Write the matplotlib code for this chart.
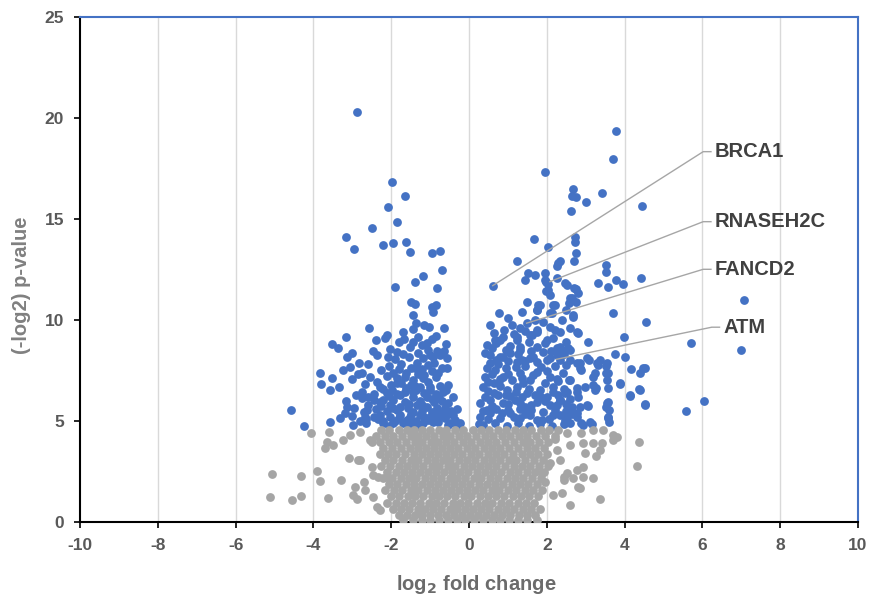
import matplotlib
matplotlib.use("Agg")
import matplotlib.pyplot as plt

# ---------------- data (log2 fold change, -log2 p-value) ----------------
blue_left = [
    (-2.88, 20.33), (-1.99, 16.86), (-1.65, 16.14), (-2.09, 15.59), (-1.84, 14.83), (-2.50, 14.55),
    (-3.16, 14.10), (-2.96, 13.50), (-2.20, 13.73), (-1.96, 13.80), (-1.63, 13.85), (-1.52, 13.37),
    (-0.96, 13.34), (-0.74, 13.44), (-0.69, 12.48), (-1.17, 12.20), (-1.39, 11.87), (-1.91, 11.65),
    (-0.81, 11.60), (-1.50, 10.89), (-1.39, 10.79), (-0.96, 10.66), (-0.85, 10.74), (-0.92, 10.41),
    (-1.45, 10.25), (-1.36, 9.84), (-1.15, 9.77), (-1.02, 9.67), (-0.64, 9.60), (-2.58, 9.59),
    (-1.45, 9.54), (-2.12, 9.26), (-2.16, 9.09), (-3.16, 9.17), (-1.67, 9.04), (-1.30, 9.14),
    (-3.51, 8.81), (-3.38, 8.60), (-1.52, 8.65), (-1.07, 8.88), (-1.84, 8.43), (-2.03, 8.55),
    (-2.46, 8.48), (-2.37, 8.26), (-0.83, 8.48), (-3.02, 8.35), (-3.14, 8.18), (-2.07, 8.18),
    (-1.05, 8.51), (-0.92, 8.18), (-0.56, 8.10), (-2.82, 7.88), (-3.06, 7.65), (-2.59, 7.82),
    (-1.76, 7.82), (-1.34, 7.88), (-1.17, 8.10), (-0.56, 7.60), (-2.25, 7.52), (-2.74, 7.36),
    (-1.61, 7.36), (-1.95, 7.36), (-3.83, 7.36), (-3.51, 7.11), (-3.80, 6.83), (-3.57, 6.53),
    (-3.33, 6.66), (-2.67, 6.83), (-2.37, 6.94), (-2.29, 6.69), (-1.86, 7.11), (-1.43, 7.02),
    (-1.17, 7.11), (-0.85, 7.19), (-1.99, 6.53), (-1.61, 6.61), (-1.26, 6.69), (-1.00, 6.53),
    (-0.66, 6.45), (-2.76, 6.45), (-2.74, 6.12), (-2.59, 6.17), (-2.20, 6.03), (-1.77, 6.28),
    (-1.43, 6.20), (-1.09, 6.17), (-0.77, 6.12), (-3.16, 6.00), (-3.14, 5.70), (-2.96, 5.62),
    (-2.62, 5.54), (-2.03, 5.79), (-1.77, 5.70), (-1.56, 5.62), (-1.34, 5.79), (-1.09, 5.70),
    (-0.83, 5.62), (-0.62, 5.62), (-4.58, 5.54), (-3.31, 5.13), (-3.57, 4.96), (-4.24, 4.76),
    (-2.64, 5.08), (-2.29, 5.29), (-2.03, 5.21), (-1.77, 5.29), (-1.52, 5.21), (-1.26, 5.29),
    (-1.00, 5.21), (-0.75, 5.21), (-0.40, 5.29), (-0.23, 4.88), (-1.69, 4.88), (-1.43, 4.88),
    (-1.17, 4.88), (-0.92, 4.96), (-1.95, 4.88), (-2.20, 4.88), (-0.62, 5.13), (-2.98, 4.80),
    (-2.67, 5.21), (-2.64, 4.88),
    (-1.90, 5.00), (-1.60, 5.05), (-1.35, 5.00), (-1.05, 5.05), (-0.80, 4.95), (-0.50, 4.90),
    (-0.35, 5.05), (-2.10, 5.50), (-1.85, 5.55), (-1.45, 5.45), (-1.20, 5.50), (-0.95, 5.45),
    (-0.70, 5.40), (-0.45, 5.50), (-2.40, 5.60), (-2.30, 5.95), (-1.95, 6.05), (-1.65, 5.95),
    (-1.25, 6.00), (-0.90, 5.95), (-0.55, 5.90), (-0.40, 6.20), (-2.45, 6.35), (-2.10, 6.40),
    (-1.85, 6.35), (-1.45, 6.45), (-1.15, 6.40), (-0.85, 6.35), (-0.55, 6.80), (-2.00, 6.80),
    (-1.75, 6.85), (-1.50, 6.80), (-1.30, 7.30), (-1.05, 6.90), (-0.75, 6.75), (-0.95, 7.45),
    (-0.70, 7.60), (-1.50, 7.60), (-1.20, 7.55), (-2.05, 7.70), (-1.80, 7.55), (-0.90, 7.85),
    (-1.55, 8.15), (-1.30, 8.35), (-0.75, 8.25), (-0.60, 8.80), (-1.20, 8.75), (-1.70, 9.40),
    (-0.85, 9.20), (-1.80, 8.90), (-2.40, 9.00), (-2.85, 7.30), (-3.00, 7.05), (-2.55, 7.15),
    (-3.25, 7.50), (-2.90, 6.30), (-3.00, 5.25), (-2.80, 5.00), (-2.45, 5.20),
    (-2.20, 5.00), (-1.80, 5.15), (-1.50, 5.35), (-1.15, 5.20), (-0.85, 5.30), (-0.55, 5.35),
    (-0.30, 5.60), (-2.25, 5.75), (-1.95, 5.65), (-1.55, 5.85), (-1.20, 5.80), (-0.95, 6.10),
    (-0.70, 6.00), (-2.45, 6.05), (-2.05, 6.25), (-1.65, 6.45), (-1.35, 6.55), (-1.00, 6.70),
    (-0.60, 6.55), (-2.20, 6.60), (-1.85, 6.85), (-1.40, 6.75), (-1.15, 7.25), (-0.80, 7.35),
    (-1.65, 7.15), (-2.10, 7.20), (-1.40, 7.60), (-1.05, 7.75), (-1.90, 8.05), (-1.70, 8.30),
    (-1.00, 8.25), (-0.65, 8.45), (-1.45, 8.90), (-0.95, 9.05), (-2.60, 5.80), (-2.70, 5.45),
    (-3.20, 5.40), (-0.30, 4.75), (-0.55, 4.78), (-1.30, 4.75), (-1.55, 4.75), (-2.05, 4.75),
    (-2.35, 5.10),
]

blue_right = [
    (3.79, 19.36), (3.69, 17.97), (1.96, 17.32), (2.68, 16.50), (2.64, 16.15), (2.75, 16.11),
    (3.00, 15.87), (3.43, 16.31), (2.61, 15.40), (4.45, 15.67), (1.68, 14.01), (2.04, 13.63),
    (2.73, 14.10), (2.73, 13.88), (2.75, 13.31), (2.70, 12.94), (1.24, 12.94), (2.34, 12.94),
    (2.27, 12.68), (3.53, 12.73), (3.52, 12.36), (4.41, 12.10), (1.52, 12.35), (1.70, 12.23),
    (1.44, 11.98), (1.95, 12.35), (0.61, 11.70), (1.95, 11.98), (2.04, 11.78), (2.25, 12.07),
    (2.47, 11.82), (2.70, 11.57), (2.81, 11.35), (3.32, 11.82), (3.58, 11.62), (3.79, 11.98),
    (3.95, 11.78), (1.99, 11.45), (2.08, 11.24), (2.64, 11.07), (2.57, 10.83), (2.75, 10.91),
    (7.07, 10.99), (1.50, 10.91), (0.78, 10.36), (1.35, 10.41), (1.83, 10.74), (2.21, 10.74),
    (1.76, 10.50), (2.08, 10.36), (3.71, 10.33), (4.55, 9.92), (2.68, 10.16), (0.54, 9.75),
    (1.10, 9.75), (1.48, 9.84), (1.74, 9.42), (1.57, 9.26), (2.08, 9.67), (2.34, 9.42),
    (2.60, 9.59), (2.79, 9.37), (3.07, 8.92), (3.98, 9.14), (5.70, 8.88), (6.98, 8.51),
    (0.45, 8.76), (0.80, 9.01), (1.23, 9.17), (1.31, 8.68), (1.95, 8.84), (2.25, 8.60),
    (2.55, 8.60), (3.75, 8.31), (4.01, 8.15), (0.54, 8.26), (0.88, 8.18), (1.65, 8.18),
    (2.08, 8.10), (2.77, 7.85), (3.28, 7.85), (3.53, 7.36), (4.16, 7.55), (4.52, 7.60),
    (4.40, 7.36), (3.87, 6.83), (4.38, 6.57), (4.14, 6.23), (4.52, 5.83), (6.03, 6.00),
    (5.59, 5.51), (3.58, 5.95), (3.61, 5.54), (3.58, 5.21), (3.61, 4.96), (3.53, 5.70),
    (3.20, 6.78), (3.27, 6.61), (3.58, 7.36), (3.53, 7.72), (3.24, 7.36), (3.37, 8.02),
    (3.03, 8.10), (3.07, 5.74), (2.85, 5.70), (2.77, 5.37), (2.51, 5.21), (2.89, 4.88),
    (3.15, 4.84), (2.60, 4.88), (2.87, 7.52), (2.77, 6.61), (2.51, 6.45), (2.57, 7.02),
    (2.81, 6.20), (2.34, 6.03),
    (2.30, 12.81), (1.98, 11.90), (2.04, 11.49), (2.51, 11.74), (2.75, 11.52), (2.60, 11.07),
    (1.78, 10.74), (2.17, 10.74), (1.74, 10.50), (2.13, 10.33), (2.68, 10.25), (1.70, 10.00),
    (1.61, 9.26), (1.74, 9.50), (2.77, 9.42), (0.67, 9.01), (0.88, 9.17), (1.23, 9.01),
    (1.31, 8.51), (1.74, 8.68), (2.00, 9.01), (2.34, 8.68), (2.60, 8.51), (0.41, 8.35),
    (0.54, 7.85), (0.80, 8.18), (1.05, 8.35), (1.23, 7.93), (1.57, 8.10), (2.00, 8.02),
    (2.25, 8.26), (2.60, 8.02), (2.85, 7.85), (3.09, 8.02), (3.32, 7.77), (3.54, 7.85),
    (4.48, 7.60), (0.41, 7.19), (0.67, 7.52), (0.88, 7.19), (1.31, 7.36), (1.57, 7.02),
    (1.74, 7.44), (2.08, 7.19), (2.42, 7.36), (2.60, 7.02), (2.85, 7.60), (3.20, 7.19),
    (3.54, 7.02), (3.88, 6.86), (0.37, 6.69), (0.63, 6.86), (0.97, 6.53), (1.23, 6.69),
    (1.48, 6.36), (1.83, 6.53), (2.17, 6.69), (2.47, 6.36), (2.77, 6.45), (2.98, 6.69),
    (3.24, 6.53), (3.58, 6.61), (4.14, 6.28), (4.40, 6.53), (0.28, 5.87), (0.54, 6.03),
    (0.88, 5.87), (1.18, 6.03), (1.44, 5.70), (1.74, 5.95), (2.08, 5.79), (2.34, 6.03),
    (2.64, 5.70), (3.03, 5.79), (3.54, 5.87), (4.52, 5.79), (0.28, 5.21), (0.54, 5.37),
    (0.80, 5.13), (1.05, 5.37), (1.31, 5.13), (1.57, 5.29), (1.87, 5.04), (2.17, 5.29),
    (2.47, 5.04), (2.77, 5.21), (3.11, 4.96), (3.58, 5.13), (0.37, 4.79), (0.67, 4.88),
    (0.97, 4.74), (1.27, 4.88), (1.53, 4.74), (1.83, 4.84), (2.13, 4.74), (2.43, 4.84),
    (2.94, 4.79),
    (0.70, 5.60), (1.00, 5.55), (1.30, 5.60), (1.60, 5.55), (1.90, 5.45), (2.20, 5.55),
    (2.50, 5.50), (0.45, 5.55), (0.75, 6.30), (1.05, 6.25), (1.35, 6.20), (1.70, 6.30),
    (2.00, 6.20), (2.30, 6.30), (2.60, 6.10), (0.50, 6.50), (0.80, 6.75), (1.10, 7.00),
    (1.40, 6.85), (1.95, 6.85), (2.30, 6.95), (0.60, 7.30), (0.95, 7.60), (1.20, 7.65),
    (1.45, 7.70), (1.85, 7.65), (2.20, 7.70), (2.50, 7.75), (0.70, 8.00), (1.35, 8.00),
    (1.90, 8.40), (2.45, 8.30), (0.60, 8.60), (1.05, 8.70), (1.55, 8.90), (2.15, 9.10),
    (2.50, 8.90), (0.90, 9.50), (1.30, 9.60), (1.90, 9.90), (2.40, 10.00), (1.00, 10.10),
    (2.50, 10.50),
    (0.25, 4.85), (0.50, 5.10), (0.85, 5.40), (1.15, 5.20), (1.45, 5.35), (1.75, 5.05),
    (2.05, 5.10), (2.35, 5.30), (2.65, 5.35), (0.35, 5.50), (0.60, 5.75), (1.00, 5.85),
    (1.30, 5.90), (1.60, 5.80), (1.95, 6.00), (2.25, 5.80), (2.50, 5.85), (0.40, 6.20),
    (0.65, 6.40), (0.95, 6.30), (1.20, 6.45), (1.55, 6.60), (1.85, 6.20), (2.15, 6.45),
    (2.45, 6.60), (0.50, 6.90), (0.80, 7.05), (1.00, 7.30), (1.35, 7.10), (1.65, 7.25),
    (2.00, 7.45), (2.25, 7.05), (0.45, 7.60), (0.75, 7.80), (1.00, 7.95), (1.45, 7.95),
    (1.75, 7.90), (2.35, 8.00), (0.95, 8.50), (1.25, 8.30), (1.60, 8.45), (2.10, 8.45),
    (2.40, 8.50), (0.70, 8.85), (1.45, 9.45), (2.20, 9.50), (1.15, 9.30), (0.65, 9.35),
]

grey_outer = [
    (-4.05, 4.41), (-3.59, 4.46), (-3.64, 3.97), (-3.70, 3.64), (-3.49, 3.80), (-3.23, 4.05),
    (-3.06, 4.30), (-2.80, 4.46), (-2.54, 4.05), (-3.08, 3.14), (-2.80, 3.06), (-2.50, 2.73),
    (-5.07, 2.36), (-4.33, 2.27), (-3.92, 2.53), (-3.82, 2.03), (-3.28, 2.07), (-2.93, 1.74),
    (-2.71, 1.98), (-2.67, 1.57), (-2.98, 1.32), (-2.89, 1.11), (-5.11, 1.21), (-4.55, 1.08),
    (-4.33, 1.27), (-3.62, 1.16), (-2.46, 2.32), (-2.33, 2.23), (-2.46, 1.24), (-2.37, 0.74),
    (-2.29, 0.58), (-2.50, 3.97), (-2.85, 3.06), (-2.12, 2.23),
    (4.36, 3.97), (4.31, 2.76), (3.37, 1.11), (2.60, 0.83), (3.71, 4.30), (3.45, 4.55),
    (3.19, 4.55), (2.89, 4.38), (2.93, 3.92), (3.20, 3.92), (3.41, 3.89), (3.37, 3.55),
    (2.97, 3.42), (3.27, 3.26), (2.60, 3.80), (2.51, 4.38), (2.93, 2.73), (2.77, 2.56),
    (2.51, 2.40), (2.93, 2.23), (3.20, 2.15), (2.85, 1.66), (2.68, 2.15), (3.71, 4.05),
    (2.34, 3.06), (2.43, 2.07), (2.38, 1.41), (3.80, 4.21), (2.81, 1.71), (2.43, 2.23),
    (2.17, 1.32), (1.95, 1.98), (2.25, 3.55), (2.08, 2.90), (1.87, 2.40), (2.20, 4.10),
]

grey_core_rows = [
    (4.55, [-2.25, -2.05, -1.8, -1.6, -1.42, -1.2, -1.0, -0.78, -0.6, -0.35, -0.15, 0.1, 0.3, 0.52, 0.75, 0.95, 1.18, 1.4, 1.6, 1.85, 2.05, 2.3]),
    (4.25, [-2.4, -2.15, -1.95, -1.72, -1.5, -1.3, -1.1, -0.9, -0.68, -0.48, -0.25, -0.05, 0.18, 0.4, 0.62, 0.85, 1.05, 1.28, 1.5, 1.72, 1.95, 2.2]),
    (3.95, [-2.3, -2.05, -1.85, -1.62, -1.4, -1.2, -0.98, -0.8, -0.58, -0.38, -0.15, 0.05, 0.28, 0.5, 0.7, 0.92, 1.15, 1.38, 1.58, 1.8, 2.02]),
    (3.65, [-2.2, -1.98, -1.75, -1.52, -1.32, -1.1, -0.9, -0.7, -0.48, -0.28, -0.06, 0.15, 0.38, 0.6, 0.8, 1.02, 1.25, 1.48, 1.7, 1.92]),
    (3.35, [-2.3, -2.08, -1.88, -1.65, -1.42, -1.22, -1.0, -0.8, -0.6, -0.38, -0.18, 0.05, 0.25, 0.48, 0.7, 0.9, 1.12, 1.35, 1.58, 1.78, 2.0]),
    (3.05, [-2.15, -1.95, -1.72, -1.5, -1.3, -1.08, -0.88, -0.68, -0.48, -0.26, -0.05, 0.15, 0.38, 0.58, 0.8, 1.02, 1.22, 1.45, 1.68, 1.9]),
    (2.75, [-2.25, -2.02, -1.8, -1.6, -1.4, -1.18, -0.96, -0.76, -0.55, -0.35, -0.14, 0.08, 0.28, 0.5, 0.7, 0.92, 1.15, 1.35, 1.58, 1.8, 2.02]),
    (2.45, [-2.1, -1.88, -1.68, -1.46, -1.26, -1.05, -0.85, -0.64, -0.44, -0.22, -0.02, 0.2, 0.4, 0.62, 0.82, 1.05, 1.25, 1.48, 1.7, 1.92]),
    (2.15, [-2.2, -1.98, -1.75, -1.55, -1.35, -1.12, -0.92, -0.72, -0.5, -0.3, -0.1, 0.12, 0.32, 0.55, 0.75, 0.98, 1.18, 1.4, 1.62, 1.85]),
    (1.85, [-2.05, -1.85, -1.62, -1.42, -1.2, -1.0, -0.8, -0.58, -0.38, -0.18, 0.02, 0.25, 0.45, 0.66, 0.88, 1.1, 1.3, 1.52, 1.75]),
    (1.55, [-2.15, -1.92, -1.72, -1.5, -1.3, -1.08, -0.88, -0.68, -0.46, -0.26, -0.06, 0.15, 0.36, 0.58, 0.78, 1.0, 1.22, 1.45, 1.65, 1.88]),
    (1.25, [-2.0, -1.8, -1.58, -1.38, -1.18, -0.96, -0.76, -0.56, -0.35, -0.14, 0.06, 0.28, 0.48, 0.7, 0.9, 1.12, 1.34, 1.55, 1.78]),
    (0.95, [-2.1, -1.88, -1.66, -1.46, -1.25, -1.04, -0.84, -0.64, -0.42, -0.22, -0.02, 0.2, 0.4, 0.6, 0.82, 1.04, 1.25, 1.46, 1.68]),
    (0.65, [-1.95, -1.75, -1.54, -1.32, -1.12, -0.92, -0.72, -0.5, -0.3, -0.1, 0.1, 0.32, 0.52, 0.74, 0.95, 1.16, 1.38, 1.6, 1.82]),
    (0.35, [-1.8, -1.6, -1.4, -1.2, -1.0, -0.8, -0.58, -0.38, -0.18, 0.02, 0.22, 0.44, 0.64, 0.85, 1.06, 1.28, 1.5, 1.7]),
    (0.10, [-1.7, -1.45, -1.22, -1.0, -0.78, -0.55, -0.32, -0.1, 0.12, 0.35, 0.58, 0.8, 1.02, 1.25, 1.5, 1.75]),
]

# labelled genes: name, point (x, y), elbow (x, y)
gene_names = ["BRCA1", "RNASEH2C", "FANCD2", "ATM"]
gene_points = [(0.61, 11.70), (2.08, 11.90), (1.48, 9.84), (2.25, 8.05)]
label_anchor = [(6.02, 18.34), (6.02, 14.87), (6.02, 12.51), (6.24, 9.64)]

x_ticks = list(range(-10, 11, 2))
y_ticks = list(range(0, 26, 5))

BLUE = "#4472C4"
GREY = "#A5A5A5"
MS = 40

# ---------------- figure ----------------
plt.rcParams["font.family"] = ["Liberation Sans", "DejaVu Sans"]
plt.rcParams["axes.unicode_minus"] = False
fig = plt.figure(figsize=(8.74, 6.06), dpi=100)
ax = fig.add_axes([80 / 874, 1 - 521.7 / 606, (858 - 80) / 874, (521.7 - 17.3) / 606])

for gx in x_ticks[1:-1]:
    ax.axvline(gx, color="#d9d9d9", lw=1.0, zorder=0)

bl = blue_left + blue_right
ax.scatter([p[0] for p in bl], [p[1] for p in bl], s=MS, color=BLUE, linewidths=0, zorder=2)

gx_all = [p[0] for p in grey_outer]
gy_all = [p[1] for p in grey_outer]
for yv, xs in grey_core_rows:
    gx_all += xs
    gy_all += [yv] * len(xs)
ax.scatter(gx_all, gy_all, s=MS, color=GREY, linewidths=0, zorder=3)

for name, (px, py), (ex, ey) in zip(gene_names, gene_points, label_anchor):
    ax.plot([px, ex, ex + 0.2], [py, ey, ey], color="#a6a6a6", lw=1.0, zorder=4)
    ax.text(ex + 0.3, ey, name, fontsize=14.5, fontweight="bold", color="#404040",
            ha="left", va="center", zorder=5)

ax.set_xlim(-10, 10)
ax.set_ylim(0, 25)
ax.set_xticks(x_ticks)
ax.set_yticks(y_ticks)
ax.tick_params(axis="both", direction="out", length=4.5, width=1.2, color="black",
               labelsize=12.5, labelcolor="#595959", pad=7)
for lab in ax.get_xticklabels() + ax.get_yticklabels():
    lab.set_fontweight("bold")

ax.spines["left"].set_color("black")
ax.spines["bottom"].set_color("black")
ax.spines["left"].set_linewidth(1.5)
ax.spines["bottom"].set_linewidth(1.5)
ax.spines["top"].set_color(BLUE)
ax.spines["right"].set_color(BLUE)
ax.spines["top"].set_linewidth(1.5)
ax.spines["right"].set_linewidth(1.5)

fig.text(22 / 874, 1 - 285 / 606, "(-log2) p-value", rotation=90, ha="center", va="center",
         fontsize=14.5, fontweight="bold", color="#808080")
fig.text(476 / 874, 1 - 585 / 606, "log$_\\mathbf{2}$ fold change", ha="center", va="center",
         fontsize=14.5, fontweight="bold", color="#6b6b6b")

fig.savefig("out.png", dpi=100)
